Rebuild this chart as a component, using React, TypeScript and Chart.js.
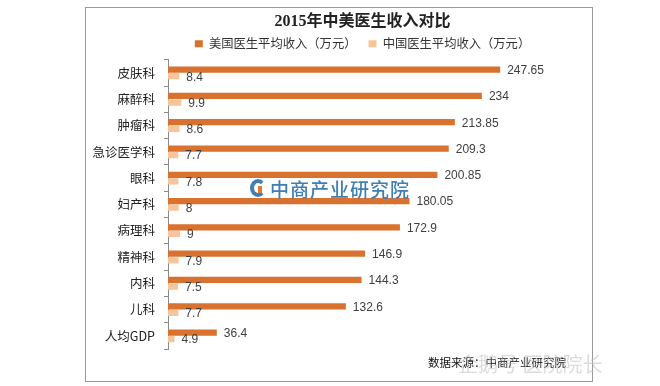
import React, { useEffect, useRef } from "react";
import { Chart, registerables } from "chart.js";

Chart.register(...registerables);

const TITLE = "2015年中美医生收入对比";
const categories = ["皮肤科", "麻醉科", "肿瘤科", "急诊医学科", "眼科", "妇产科", "病理科", "精神科", "内科", "儿科", "人均GDP"];
const usLabel = "美国医生平均收入（万元）";
const cnLabel = "中国医生平均收入（万元）";
const usValues = [247.65, 234, 213.85, 209.3, 200.85, 180.05, 172.9, 146.9, 144.3, 132.6, 36.4];
const cnValues = [8.4, 9.9, 8.6, 7.7, 7.8, 8, 9, 7.9, 7.5, 7.7, 4.9];
const usLabelsText = ["247.65", "234", "213.85", "209.3", "200.85", "180.05", "172.9", "146.9", "144.3", "132.6", "36.4"];
const cnLabelsText = ["8.4", "9.9", "8.6", "7.7", "7.8", "8", "9", "7.9", "7.5", "7.7", "4.9"];
const sourceText = "数据来源：中商产业研究院";
const watermark = "中商产业研究院";

const DARK = "#D9712F";
const LIGHT = "#F7C59B";
const CJK = "'Noto Sans CJK SC', 'Liberation Sans', sans-serif";

const valueLabelPlugin = {
  id: "valueLabels",
  afterDatasetsDraw(chart: any) {
    const ctx = chart.ctx;
    ctx.save();
    ctx.font = "12px 'Liberation Sans', Arial, sans-serif";
    ctx.fillStyle = "#404040";
    ctx.textAlign = "left";
    ctx.textBaseline = "middle";
    const texts = [usLabelsText, cnLabelsText];
    chart.data.datasets.forEach((ds: any, di: number) => {
      const meta = chart.getDatasetMeta(di);
      meta.data.forEach((el: any, i: number) => {
        ctx.fillText(texts[di][i], el.x + 7, el.y + 1);
      });
    });
    ctx.restore();
  },
};

// title drawn centred over the plot area; legend re-centred over the plot area
const headerPlugin = {
  id: "header",
  afterLayout(chart: any) {
    const a = chart.chartArea;
    const lg = chart.legend;
    if (lg) {
      lg.left = a.left;
      lg.right = a.right;
      lg.width = a.right - a.left;
      if (lg.adjustHitBoxes) lg.adjustHitBoxes();
    }
  },
  afterDraw(chart: any) {
    const a = chart.chartArea;
    const ctx = chart.ctx;
    ctx.save();
    ctx.font = "bold 16px 'Liberation Serif', 'Noto Sans CJK SC', serif";
    ctx.fillStyle = "#222";
    ctx.textAlign = "center";
    ctx.textBaseline = "middle";
    ctx.fillText(TITLE, (a.left + a.right) / 2, 14);
    ctx.restore();
  },
};

export default function App() {
  const ref = useRef<HTMLCanvasElement | null>(null);
  useEffect(() => {
    if (!ref.current) return;
    const chart = new Chart(ref.current, {
      type: "bar",
      data: {
        labels: categories,
        datasets: [
          { label: usLabel, data: usValues, backgroundColor: DARK, categoryPercentage: 0.5, barPercentage: 0.95 },
          { label: cnLabel, data: cnValues, backgroundColor: LIGHT, categoryPercentage: 0.5, barPercentage: 0.95 },
        ],
      },
      options: {
        indexAxis: "y",
        animation: false,
        responsive: false,
        maintainAspectRatio: false,
        layout: { padding: { left: 0, right: 35, top: 17.5, bottom: 32 } },
        plugins: {
          tooltip: { enabled: false },
          title: { display: false },
          legend: {
            display: true,
            position: "top",
            maxHeight: 35.5,
            labels: {
              boxWidth: 8,
              boxHeight: 7,
              padding: 12,
              color: "#333",
              font: { size: 12.3, family: CJK },
            },
          },
        },
        scales: {
          x: { display: false, min: 0, max: 290 },
          y: {
            afterFit(scale: any) {
              scale.width = 82;
            },
            border: { display: true, color: "#8a8a8a", width: 1 },
            grid: { display: true, offset: true, drawOnChartArea: false, drawTicks: true, tickLength: 4, color: "#8a8a8a" },
            ticks: { color: "#222", padding: 9, font: { size: 12.5, family: CJK } },
          },
        },
      },
      plugins: [valueLabelPlugin, headerPlugin],
    } as any);
    return () => chart.destroy();
  }, []);

  return (
    <div style={{ position: "fixed", left: 0, top: 0, width: 660, height: 386, background: "#fff", overflow: "hidden" }}>
      <div style={{ position: "absolute", left: 85, top: 7, width: 508, height: 375, border: "1px solid #999", boxSizing: "border-box", background: "#fff" }}>
        <canvas ref={ref} width={506} height={373} style={{ display: "block", width: 506, height: 373 }} />
      </div>
      <div style={{ position: "absolute", left: 250, top: 176, height: 24, display: "flex", alignItems: "center", pointerEvents: "none" }}>
        <div style={{ width: 16, height: 18, borderRadius: "50%", border: "4px solid #3F7FB4", borderRightColor: "transparent", boxSizing: "border-box", position: "relative", marginRight: 4 }}>
          <div style={{ position: "absolute", left: 4, top: 3, width: 4, height: 7, background: "#E07A30" }} />
        </div>
        <span style={{ fontFamily: CJK, fontSize: 19, fontWeight: 500, color: "#3F7FB4", letterSpacing: 1 }}>{watermark}</span>
      </div>
      <div style={{ position: "absolute", left: 428, top: 354, fontFamily: CJK, fontSize: 11.5, color: "#111", whiteSpace: "nowrap" }}>{sourceText}</div>
      <div style={{ position: "absolute", left: 458, top: 349, fontFamily: CJK, fontSize: 20, color: "rgba(190,190,190,0.55)", whiteSpace: "nowrap", pointerEvents: "none" }}>企鹅号 医院院长</div>
    </div>
  );
}
